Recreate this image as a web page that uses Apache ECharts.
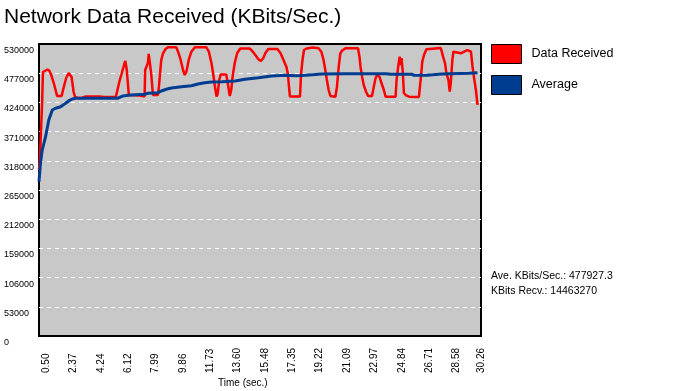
<!DOCTYPE html>
<html>
<head>
<meta charset="utf-8">
<script src="https://cdn.jsdelivr.net/npm/echarts@6/dist/echarts.min.js"></script>
<style>
  html, body { margin: 0; padding: 0; background: #ffffff; }
  #chart { width: 676px; height: 391px; }
</style>
</head>
<body>
<div id="chart"></div>
<script>
// ---- Data ----
const titleText = 'Network Data Received (KBits/Sec.)';
const seriesNames = ['Data Received', 'Average'];
const xAxisTitle = 'Time (sec.)';
const xTickLabels = [0.50, 2.37, 4.24, 6.12, 7.99, 9.86, 11.73, 13.60, 15.48, 17.35, 19.22, 21.09, 22.97, 24.84, 26.71, 28.58, 30.26];
const xMax = 30.26;
const yMax = 530000;
const yStep = 53000;
const statLines = ['Ave. KBits/Sec.: 477927.3', 'KBits Recv.: 14463270'];

// [time (s), KBits/Sec.]
const dataReceived = [
  [0.00,301000],[0.07,328500],[0.15,379400],[0.22,428400],[0.27,479200],[0.38,482800],[0.58,483700],
  [0.72,481000],[0.86,471900],[1.03,457400],[1.24,435600],[1.37,433800],[1.55,435600],[1.68,450100],
  [1.86,468300],[2.03,477400],[2.13,479200],[2.23,470100],[2.37,442900],[2.47,433800],[2.65,432000],
  [2.92,432000],[3.20,434700],[4.16,434700],[4.43,433800],[5.26,433800],[5.36,435600],[5.53,464700],
  [5.67,477400],[5.84,493700],[5.91,499100],[6.01,482800],[6.15,437400],[6.22,436500],[6.89,436500],
  [6.98,434700],[7.23,434700],[7.27,482800],[7.46,496100],[7.51,511900],[7.59,510000],[7.68,476800],
  [7.80,437400],[8.14,437400],[8.21,452500],[8.30,479700],[8.37,501000],[8.49,513100],[8.65,520400],
  [8.83,524000],[9.40,524000],[9.52,516000],[9.70,501000],[9.86,482800],[9.98,473700],[10.09,479700],
  [10.25,501000],[10.43,516000],[10.67,524000],[11.46,524000],[11.63,516000],[11.81,495000],[11.92,476800],
  [12.06,450100],[12.16,434700],[12.23,439250],[12.34,464700],[12.44,474600],[12.82,474600],[12.92,459200],
  [13.06,435600],[13.16,446500],[13.26,471900],[13.40,495500],[13.57,513700],[13.78,521800],[14.43,521800],
  [14.60,517300],[14.81,510000],[15.03,501900],[15.19,499100],[15.36,504600],[15.50,513700],[15.70,520900],
  [16.32,520900],[16.53,513700],[16.74,501000],[16.94,488300],[17.04,475550],[17.11,453800],[17.18,434700],
  [17.87,434700],[17.94,475550],[18.04,501000],[18.14,519100],[18.32,521800],[18.73,523600],[19.14,522200],
  [19.33,516000],[19.48,501000],[19.60,482800],[19.71,464700],[19.83,446500],[19.95,435600],[20.29,434300],
  [20.40,452500],[20.52,488800],[20.63,513100],[20.74,517800],[20.98,522200],[21.84,522200],[21.94,507000],
  [22.01,488800],[22.12,470600],[22.23,455600],[22.39,443400],[22.53,435600],[22.80,435600],[22.92,452500],
  [23.04,467700],[23.15,473700],[23.31,470600],[23.45,458700],[23.61,446500],[23.73,434300],[24.41,434300],
  [24.48,464700],[24.59,488800],[24.69,507000],[24.76,491900],[24.82,504600],[24.91,477400],[24.98,441100],
  [25.10,437400],[25.33,434300],[26.01,433800],[26.08,452500],[26.17,476800],[26.24,497900],[26.36,510000],
  [26.52,520400],[26.65,524000],[27.51,522700],[27.66,507000],[27.80,495000],[27.89,476800],[28.03,464700],
  [28.12,443400],[28.19,458700],[28.30,501000],[28.37,516000],[28.71,514200],[28.88,513100],[29.11,516000],
  [29.33,519100],[29.57,516000],[29.68,488800],[29.79,467700],[29.91,446500],[30.02,419300]
];

const average = [
  [0.00,280100],[0.10,313500],[0.22,337600],[0.45,361750],[0.67,392100],[0.91,410200],[1.13,413300],
  [1.48,416200],[1.82,422400],[2.05,427100],[2.28,430200],[2.51,431400],[5.37,431400],[5.72,435600],
  [6.29,437400],[7.23,438700],[7.46,440500],[8.14,441600],[8.37,444700],[8.71,447800],[9.06,450100],
  [9.75,452500],[10.43,454300],[10.89,457400],[11.35,459800],[11.81,461000],[12.54,461600],[13.42,462800],
  [14.10,465900],[15.02,468800],[15.93,471900],[16.85,473200],[17.54,472300],[17.99,472800],[18.73,474300],
  [19.35,475550],[21.00,476100],[21.89,476100],[22.01,477900],[22.16,476100],[23.75,476100],[24.09,475000],
  [25.53,475000],[25.67,473200],[26.56,473200],[27.59,475550],[29.45,476800],[30.02,477900]
];

// ---- Chart ----
const chart = echarts.init(document.getElementById('chart'), null, { renderer: 'canvas' });
const FONT = 'Liberation Sans, Arial, sans-serif';

chart.setOption({
  animation: false,
  backgroundColor: '#ffffff',
  title: {
    text: titleText,
    left: 4,
    top: 7,
    padding: 0,
    textStyle: { fontFamily: FONT, fontSize: 21, fontWeight: 'normal', color: '#000' }
  },
  legend: {
    orient: 'vertical',
    left: 491,
    top: 44,
    padding: 0,
    itemWidth: 30,
    itemHeight: 19,
    itemGap: 11,
    icon: 'rect',
    data: seriesNames,
    itemStyle: { borderColor: '#000', borderWidth: 1 },
    textStyle: { fontFamily: FONT, fontSize: 12.5, color: '#000', padding: [0, 0, 0, 5] }
  },
  grid: {
    left: 39,
    top: 44,
    right: 195,
    bottom: 55,
    show: true,
    backgroundColor: '#c8c8c8',
    borderColor: '#000',
    borderWidth: 2
  },
  xAxis: {
    type: 'value',
    min: 0,
    max: xMax,
    axisLine: { show: false },
    axisTick: { show: false },
    splitLine: { show: false },
    axisLabel: {
      customValues: xTickLabels,
      rotate: 90,
      align: 'left',
      verticalAlign: 'middle',
      margin: 37,
      fontFamily: FONT,
      fontSize: 10,
      color: '#000',
      formatter: v => v.toFixed(2)
    }
  },
  yAxis: {
    type: 'value',
    min: 0,
    max: yMax,
    interval: yStep,
    axisLine: { show: false },
    axisTick: { show: false },
    splitLine: {
      show: true,
      showMinLine: false,
      showMaxLine: false,
      lineStyle: { color: '#ffffff', width: 1, type: [4, 4] }
    },
    axisLabel: {
      align: 'left',
      verticalAlign: 'top',
      margin: 35,
      padding: [2, 0, 0, 0],
      fontFamily: FONT,
      fontSize: 9,
      color: '#000',
      formatter: v => String(v)
    }
  },
  graphic: [
    { type: 'text', left: 218, top: 378, style: { text: xAxisTitle, font: '10px ' + FONT, fill: '#000' } },
    { type: 'text', left: 491, top: 271, style: { text: statLines[0], font: '10.5px ' + FONT, fill: '#000' } },
    { type: 'text', left: 491, top: 286, style: { text: statLines[1], font: '10.5px ' + FONT, fill: '#000' } }
  ],
  series: [
    {
      name: seriesNames[0],
      type: 'line',
      data: dataReceived,
      showSymbol: false,
      symbol: 'none',
      itemStyle: { color: '#ff0000' },
      lineStyle: { color: '#ff0000', width: 2.5 },
      z: 2
    },
    {
      name: seriesNames[1],
      type: 'line',
      data: average,
      showSymbol: false,
      symbol: 'none',
      itemStyle: { color: '#003c8f' },
      lineStyle: { color: '#003c8f', width: 3 },
      z: 3
    }
  ]
});
</script>
</body>
</html>
